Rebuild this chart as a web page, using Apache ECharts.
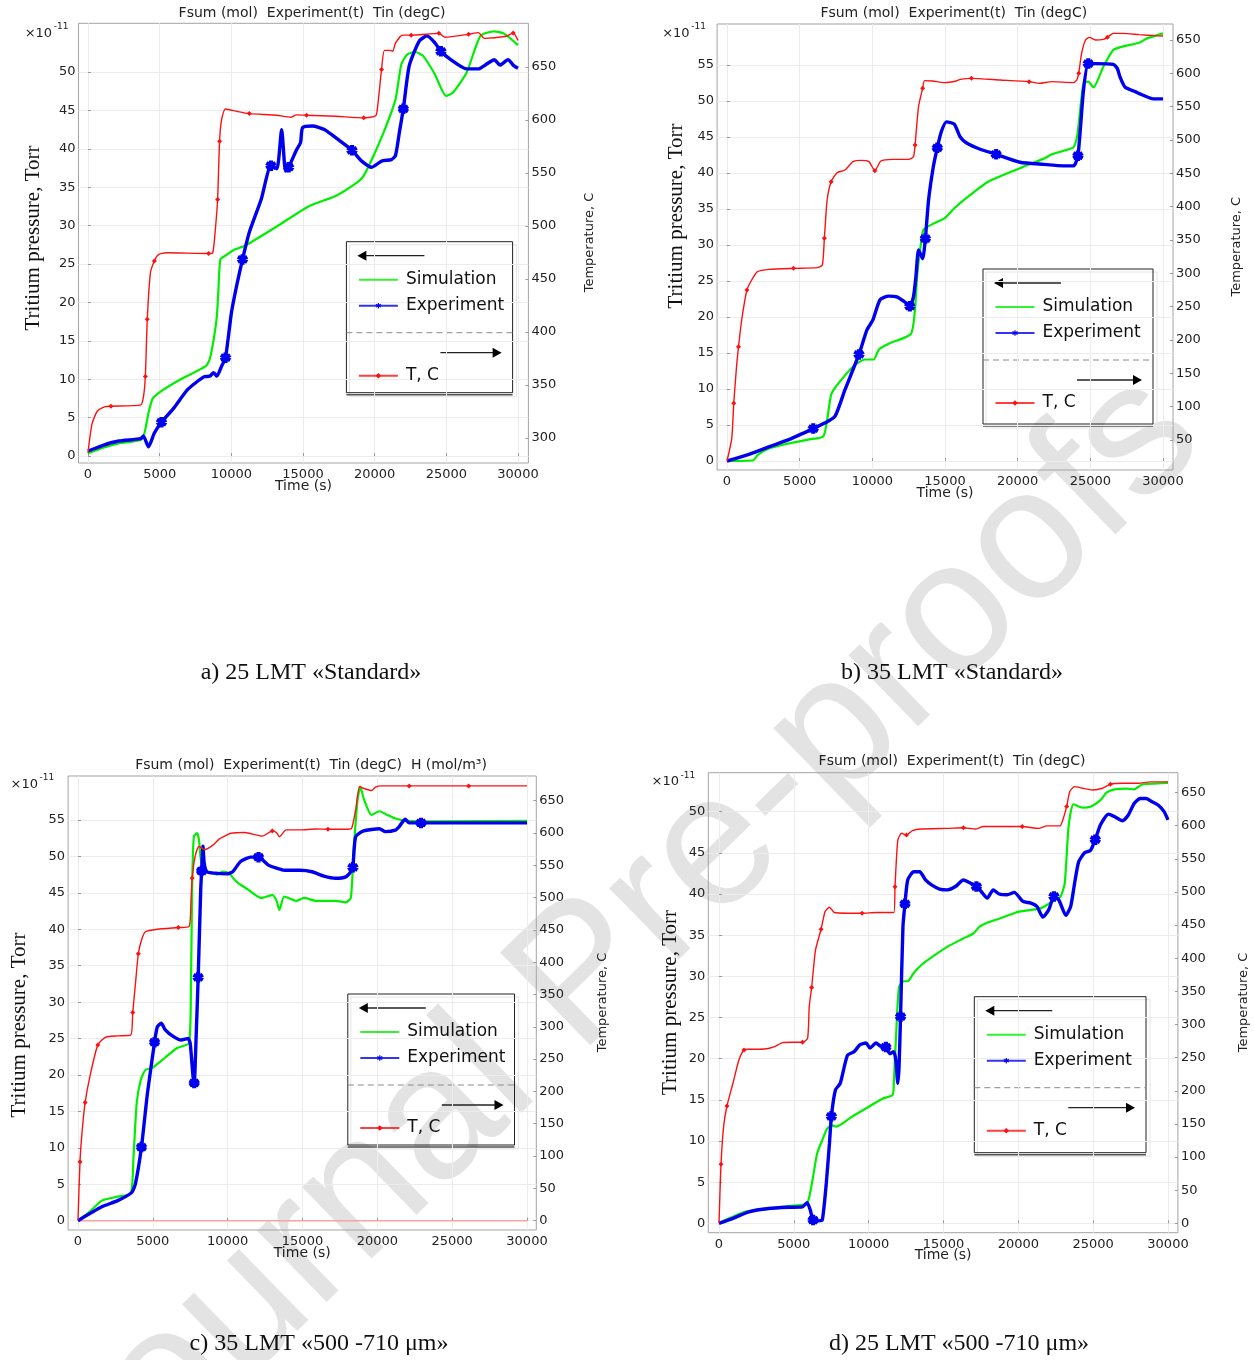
<!DOCTYPE html>
<html>
<head>
<meta charset="utf-8">
<script src="https://cdn.jsdelivr.net/npm/echarts@6/dist/echarts.min.js"></script>
<style>
  html, body { margin: 0; padding: 0; background: #ffffff; }
  #chart { width: 1254px; height: 1360px; }
</style>
</head>
<body>
<div id="chart"></div>
<script>
// ---- Tick values ----
const timeTicks = [0, 5000, 10000, 15000, 20000, 25000, 30000];
const pressTicks50 = [0, 5, 10, 15, 20, 25, 30, 35, 40, 45, 50];
const pressTicks55 = [0, 5, 10, 15, 20, 25, 30, 35, 40, 45, 50, 55];
const tempTicksA = [300, 350, 400, 450, 500, 550, 600, 650];
const tempTicksB = [50, 100, 150, 200, 250, 300, 350, 400, 450, 500, 550, 600, 650];
const tempTicks0 = [0, 50, 100, 150, 200, 250, 300, 350, 400, 450, 500, 550, 600, 650];

// ---- a) 25 LMT «Standard»: [time s, pressure ×1e-11 Torr] and [time s, temperature C] ----
const simA = [[0,0.35],[1050,1.08],[2150,1.65],[3670,2.08],[3940,3.0],[4220,5.6],[4490,7.4],[4910,8.2],[6290,9.8],[8215,11.7],[8490,12.6],[8770,15.2],[8990,18.2],[9100,21.7],[9235,25.6],[9594,26.1],[10145,26.8],[10970,27.4],[13180,29.9],[15380,32.5],[17310,33.9],[18830,35.7],[19240,36.5],[19800,38.6],[20620,42.1],[21450,46.4],[21860,51.0],[22280,52.3],[22830,52.6],[23380,52.1],[24200,49.7],[24980,46.9],[25450,47.3],[26410,49.9],[27380,54.7],[28340,55.3],[29030,55.0],[30000,53.5]];
const expA = [[0,0.65],[1050,1.4],[2150,1.95],[3670,2.26],[3860,2.6],[4220,1.2],[4630,3.0],[5130,4.4],[6010,6.3],[6975,8.7],[8080,10.3],[8490,10.4],[8770,10.85],[8990,10.4],[9320,11.7],[9594,12.8],[10010,18.7],[10420,22.6],[10780,25.6],[11250,29.1],[12080,33.4],[12765,37.8],[13180,37.4],[13510,42.5],[13785,37.1],[14000,37.6],[14560,39.9],[14830,40.8],[14970,42.75],[15660,42.97],[16490,42.5],[17590,41.0],[18420,39.8],[19100,38.4],[19800,37.6],[20480,38.4],[21170,38.6],[21450,39.1],[21720,42.1],[22000,45.2],[22410,50.8],[23100,54.0],[23650,54.7],[24200,53.8],[24620,52.7],[25310,51.6],[26410,50.4],[27240,50.4],[27790,51.0],[28340,51.6],[28750,50.9],[29300,51.6],[29720,50.8],[30000,50.5]];
const tempA = [[0,286],[276,313],[634,325],[1185,329.5],[1600,330],[3670,331],[3860,338],[4000,358],[4135,412],[4356,456],[4630,467],[4910,473],[5460,474.7],[8410,474],[8710,475],[8905,500],[9043,525],[9180,580],[9320,600],[9594,610.4],[10420,608],[11250,606],[13180,604.5],[14140,602.6],[14560,604.8],[15250,604.5],[17310,603.5],[19240,602],[20070,604],[20210,613],[20480,647.5],[20680,665.7],[21040,665.7],[21260,664.8],[21450,672.6],[21950,680],[22550,680],[24480,681.7],[24900,678],[26550,680.8],[27240,682.4],[27650,677],[29170,679],[29665,682],[30000,675]];
const expMarksA = [5130, 9594, 10780, 12765, 14000, 18420, 22000, 24620];
const tempMarksA = [1600, 4000, 4135, 4630, 8410, 9043, 9180, 11250, 15250, 19240, 20480, 22550, 24480, 26550, 29665];

// ---- b) 35 LMT «Standard» ----
const simB = [[0,0],[1830,0.1],[2100,0.83],[2930,1.76],[4290,2.45],[5660,3.0],[6620,3.4],[6890,5.7],[7166,9.2],[7576,10.55],[8670,13.1],[9490,14.1],[10090,14.1],[10450,15.5],[11130,16.3],[12640,17.6],[12910,20.5],[13100,26.1],[13320,29.8],[13510,32.1],[14140,32.9],[14960,33.7],[15640,35.1],[16330,36.3],[17970,38.8],[20700,41.1],[21800,42.0],[22350,42.6],[23170,43.1],[23850,43.6],[24120,45.5],[24530,52.5],[24860,52.7],[25220,51.9],[25900,54.8],[26580,57.1],[27270,57.6],[28360,58.1],[28910,58.7],[30000,59.4]];
const expB = [[0,0],[1560,0.97],[2930,2.0],[4290,3.0],[5935,4.5],[6755,5.3],[7440,6.25],[8120,9.9],[9080,14.8],[9630,18.2],[10040,19.6],[10530,22.4],[11130,22.9],[11680,22.8],[12230,22.1],[12580,21.5],[12830,22.8],[13000,25.6],[13180,29.3],[13460,28.1],[13650,30.9],[13870,36.25],[14200,40.9],[14470,43.5],[14740,45.7],[15100,47.1],[15640,46.8],[16050,45.0],[16460,44.2],[17420,43.3],[18520,42.6],[20160,41.5],[21800,41.2],[23170,41.0],[23850,41.0],[24150,42.4],[24530,51.5],[24860,55.2],[25350,55.2],[26580,55.1],[26860,54.5],[27050,53.3],[27400,51.9],[28090,51.3],[28640,50.8],[29320,50.3],[30000,50.3]];
const tempB = [[0,18.5],[328,52.5],[465,105],[656,160],[793,190],[1010,230],[1370,275],[1700,290],[2100,302.5],[2930,306],[4570,307.5],[6210,308.5],[6560,312.5],[6700,352.5],[6890,410],[7166,437.5],[7576,451],[8123,455],[8670,467.5],[9220,469.5],[9764,467.5],[10170,454],[10585,468.5],[11400,471],[12500,471],[12830,475],[12940,492.5],[13180,550],[13460,577.5],[13600,589],[14140,588.5],[14960,586],[15780,588.5],[16050,591],[16820,592.5],[18790,590],[20790,587.5],[21520,585],[22350,587.5],[23850,586],[24070,590],[24200,600],[24400,630],[24670,650],[24940,654],[25350,650],[25900,651],[26175,654],[26580,660],[27270,660],[28360,658],[29460,656.5],[30000,656]];
const expMarksB = [5935, 9080, 12580, 13650, 14470, 18520, 24150, 24860];
const tempMarksB = [465, 793, 1370, 4570, 6700, 7166, 10170, 12940, 13460, 16820, 20790, 24200, 26175];

// ---- c) 35 LMT «500 -710 μm» ----
const simC = [[0,0],[795,1.24],[1590,2.75],[2650,3.3],[3525,3.75],[3710,8.8],[3920,16.1],[4190,19.3],[4505,20.7],[4900,20.9],[5830,22.4],[6625,23.7],[7420,24.4],[7550,32.6],[7630,46.3],[7740,52.7],[7950,53.2],[8080,52.3],[8215,49.5],[8480,47.9],[8880,47.8],[9275,47.5],[9670,47.9],[10070,47.7],[10600,46.5],[11395,45.4],[12240,44.3],[12985,44.7],[13250,44.0],[13460,42.65],[13780,44.5],[14575,43.9],[15100,44.3],[15900,43.9],[17225,43.9],[17890,43.7],[18230,44.3],[18420,50.9],[18680,57.8],[18870,59.6],[19080,58.0],[19610,55.7],[20140,56.2],[20670,55.7],[21200,55.2],[22000,54.9],[23850,54.8],[30000,54.9]];
const expC = [[0,0],[1590,1.9],[2650,2.75],[3580,3.85],[3840,5.1],[4240,10.1],[4640,17.5],[5115,24.5],[5300,26.6],[5565,27.1],[5830,26.2],[6360,25.3],[6890,24.8],[7367,25.0],[7500,24.3],[7685,19.8],[7765,18.9],[7900,25.7],[8030,33.4],[8200,45.5],[8260,48.0],[8350,51.4],[8430,49.1],[8610,47.9],[9140,47.7],[9940,47.6],[10335,47.9],[10865,49.3],[11530,49.9],[12060,49.9],[12720,48.8],[13250,48.4],[13780,48.1],[14840,48.1],[15635,47.9],[16430,47.3],[17225,47.0],[17890,47.2],[18230,47.9],[18365,48.5],[18550,52.7],[19080,53.5],[20140,53.8],[20540,53.4],[21200,53.6],[21465,54.1],[21860,55.1],[22130,54.6],[22920,54.6],[30000,54.6]];
const tempC = [[0,1],[133,91],[265,135],[477,183],[795,223],[1325,272],[1855,284],[2650,286],[3525,287],[3657,322],[3840,367],[4030,413],[4240,434],[4505,447],[5300,451],[6700,453.5],[7420,455],[7550,496],[7630,530],[7820,563],[8080,579],[8480,574],[9010,581],[9410,590],[9800,595],[10200,599.5],[11130,600.5],[12320,595],[12985,603],[13250,600.5],[13460,594],[13910,604.6],[14840,604.6],[15900,606],[16700,605.7],[18020,605.7],[18285,607],[18550,635.6],[18815,671.7],[19080,669],[19610,665.5],[19875,670.7],[20270,672.7],[22130,672.7],[26100,672.7],[30000,672.7]];
const hC = [[0,0],[30000,0]];
const expMarksC = [4240, 5115, 7765, 8030, 8260, 12060, 18365, 22920];
const tempMarksC = [133, 477, 1325, 3657, 4030, 6700, 7630, 12985, 16700, 22130, 26100];

// ---- d) 25 LMT «500 -710 μm» ----
const simD = [[0,0.08],[929,0.8],[1725,1.4],[3050,1.7],[4650,2.1],[5840,2.35],[6030,3.2],[6290,5.7],[6560,8.5],[6900,10.1],[7220,11.5],[7570,11.9],[7830,11.74],[8890,12.96],[9960,14.1],[10890,15.1],[11600,15.6],[11680,17.0],[11870,24.3],[12030,28.7],[12345,29.4],[12610,29.4],[13010,30.4],[13540,31.4],[14200,32.3],[15270,33.6],[16330,34.6],[16990,35.2],[17390,36.0],[17920,36.5],[18720,37.0],[20050,37.85],[21370,38.2],[21770,38.5],[22430,39.3],[22830,39.7],[23100,41.3],[23360,48.2],[23680,50.9],[24290,50.5],[24820,50.6],[25490,51.4],[25890,52.3],[26420,52.7],[27210,52.8],[27740,52.7],[28270,53.3],[29070,53.4],[30000,53.5]];
const expD = [[0,0],[929,0.6],[1990,1.4],[3320,1.8],[4650,1.95],[5575,2.0],[5890,2.5],[6100,1.6],[6290,0.4],[6640,0.3],[6900,0.4],[7170,4.9],[7380,9.7],[7510,13.0],[7780,16.2],[8100,17.0],[8580,20.4],[9030,20.85],[9425,21.7],[9820,21.9],[10090,21.3],[10490,21.9],[10810,21.5],[11150,21.4],[11420,20.6],[11680,20.85],[11815,19.8],[11950,17.0],[12030,19.0],[12130,25.1],[12290,36.0],[12425,38.8],[12610,41.7],[13010,42.7],[13410,42.7],[13800,41.7],[14200,41.1],[14735,40.6],[15270,40.5],[15800,40.9],[16330,41.7],[16725,41.4],[17200,40.9],[17520,40.3],[17920,39.5],[18320,40.5],[18720,40.0],[19250,39.9],[19730,40.2],[20310,39.1],[20840,38.9],[21240,38.5],[21640,37.2],[22040,38.1],[22380,39.7],[22700,39.3],[23180,37.4],[23500,38.5],[23760,41.3],[24030,43.9],[24430,45.0],[24820,45.3],[25140,46.6],[25490,48.4],[26020,49.7],[26420,49.4],[26950,48.9],[27350,49.6],[27740,51.0],[28140,51.6],[28540,51.6],[28940,51.2],[29340,50.8],[29740,50.0],[30000,49.0]];
const tempD = [[0,0],[133,89],[318,148],[531,177],[929,211],[1330,246.5],[1670,261.6],[1990,262.6],[3050,263],[3715,266.6],[4250,272.7],[4910,273.2],[5575,273.2],[5920,279],[6030,327],[6190,356],[6450,412.5],[6820,443.7],[7090,470.4],[7380,477],[7700,469],[8630,468],[9560,468],[10490,469],[11680,469],[11760,508],[11950,578.6],[12210,588.6],[12530,586],[12930,592.6],[13540,595],[15270,596],[16330,597],[17120,595],[17660,598.7],[19250,598.7],[20260,598.7],[21370,596],[21900,599.7],[22780,599.7],[22970,608.7],[23230,628.9],[23440,651.5],[23760,659],[24290,656.5],[24960,654],[25620,656.5],[26150,662.6],[26950,664.1],[28010,664.1],[28800,666.1],[30000,666.1]];
const expMarksD = [6290, 7510, 11150, 12130, 12425, 17200, 22380, 25140];
const tempMarksD = [133, 531, 1670, 5575, 6190, 6820, 9560, 11760, 12530, 16330, 20260, 23230, 26150];

// ---- Text ----
const headerText = 'Fsum (mol)  Experiment(t)  Tin (degC)';
const headerTextH = 'Fsum (mol)  Experiment(t)  Tin (degC)  H (mol/m³)';
const captions = ['a) 25 LMT «Standard»', 'b) 35 LMT «Standard»', 'c) 35 LMT «500 -710 μm»', 'd) 25 LMT «500 -710 μm»'];

// ---- Panel layout (pixels) and axis ranges ----
const panels = [
  { grid: [78.5, 23.3, 449.9, 439.7], x: [-663, 30726], yL: [-0.91, 56.34], yR: [276.4, 691.2],
    pTicks: pressTicks50, tTicks: tempTicksA, sim: simA, exp: expA, temp: tempA, expMarks: expMarksA, tempMarks: tempMarksA,
    box: [346.4, 241.7, 166.2, 151], pName: [33, 238], tName: [589.8, 242.5], mult: [24.7, 33.3], header: [312, 13.3, headerText], caption: [311, 673] },
  { grid: [717.1, 24, 455.9, 446], x: [-681, 30689], yL: [-1.25, 60.7], yR: [5, 674],
    pTicks: pressTicks55, tTicks: tempTicksB, sim: simB, exp: expB, temp: tempB, expMarks: expMarksB, tempMarks: tempMarksB,
    box: [983, 269, 170, 155], pName: [676, 216], tName: [1236.5, 246.7], mult: [662.2, 33.3], header: [953.8, 13.3, headerText], caption: [952, 673] },
  { grid: [68.1, 776, 468.2, 454], x: [-661, 30621], yL: [-1.28, 61.04], yR: [-14.4, 688],
    pTicks: pressTicks55, tTicks: tempTicks0, sim: simC, exp: expC, temp: tempC, expMarks: expMarksC, tempMarks: tempMarksC, h: hC,
    box: [347.8, 994, 166.7, 151], pName: [19.3, 1025], tName: [602.6, 1002.5], mult: [10.5, 784.3], header: [311, 765, headerTextH], caption: [319, 1344] },
  { grid: [708.3, 772.7, 469.6, 460], x: [-715, 30662], yL: [-1.14, 54.73], yR: [-14.2, 680],
    pTicks: pressTicks50, tTicks: tempTicks0, sim: simD, exp: expD, temp: tempD, expMarks: expMarksD, tempMarks: tempMarksD,
    box: [974.3, 996.7, 171.7, 156], pName: [670, 1002.5], tName: [1243.4, 1002.5], mult: [651.5, 781.7], header: [952, 761.7, headerText], caption: [959, 1344] }
];

const SANS = 'DejaVu Sans';
const SERIF = 'Liberation Serif';
const GREEN = '#00ee00', BLUE = '#0000f0', RED = '#ff1010', PINK = '#f5a3a3';
const ASTERISK = 'path://M-1,-5L1,-5L1,5L-1,5Z M3.83,-3.37L4.83,-1.63L-3.83,3.37L-4.83,1.63Z M-4.83,-1.63L-3.83,-3.37L4.83,1.63L3.83,3.37Z';

// Only the listed sample times carry a marker; other points are plain line vertices.
function withMarkers(points, markTimes) {
  return points.map(p => markTimes.indexOf(p[0]) >= 0 ? { value: p } : { value: p, symbol: 'none' });
}

function legendFrame(b) {
  const [x, y, w, h] = b;
  const ay = y + 14, by = y + 111, sy = y + 91;
  return [
    { type: 'rect', silent: true, shape: { x: x + 3, y: y + 3, width: w + 1, height: h + 1 }, style: { fill: 'transparent', stroke: '#e4e4e4', lineWidth: 1 } },
    { type: 'rect', silent: true, shape: { x: x, y: y, width: w, height: h }, style: { fill: 'transparent', stroke: '#222', lineWidth: 1 } },
    { type: 'line', silent: true, shape: { x1: x, y1: y + h + 2, x2: x + w, y2: y + h + 2 }, style: { stroke: '#555', lineWidth: 1.5 } },
    { type: 'line', silent: true, shape: { x1: x, y1: sy, x2: x + w, y2: sy }, style: { stroke: '#8a8a8a', lineWidth: 1, lineDash: [6, 4] } },
    { type: 'line', silent: true, shape: { x1: x + 18, y1: ay, x2: x + 78, y2: ay }, style: { stroke: '#222', lineWidth: 1.3 } },
    { type: 'polygon', silent: true, shape: { points: [[x + 11, ay], [x + 20, ay - 5], [x + 20, ay + 5]] }, style: { fill: '#000' } },
    { type: 'line', silent: true, shape: { x1: x + 94, y1: by, x2: x + w - 18, y2: by }, style: { stroke: '#222', lineWidth: 1.3 } },
    { type: 'polygon', silent: true, shape: { points: [[x + w - 11, by], [x + w - 20, by - 5], [x + w - 20, by + 5]] }, style: { fill: '#000' } }
  ];
}

const plainNumber = v => String(v);

const option = {
  animation: false,
  backgroundColor: '#ffffff',
  textStyle: { fontFamily: SANS },
  title: [],
  grid: [],
  xAxis: [],
  yAxis: [],
  legend: [],
  series: [],
  graphic: { elements: [] }
};

// Watermark, kept underneath the plots
option.graphic.elements.push({
  type: 'text', silent: true, z: -10, x: 618, y: 946, rotation: 0.772,
  style: { text: 'Journal Pre-proofs', font: 'normal 188px "Liberation Sans"', fill: '#e3e3e3', align: 'center', verticalAlign: 'middle' }
});

panels.forEach((p, i) => {
  option.grid.push({
    left: p.grid[0], top: p.grid[1], width: p.grid[2], height: p.grid[3],
    show: true, borderColor: '#a3a3a3', borderWidth: 1, backgroundColor: 'transparent',
    containLabel: false, outerBoundsMode: 'none'
  });

  option.xAxis.push({
    type: 'value', gridIndex: i, min: p.x[0], max: p.x[1],
    name: 'Time (s)', nameLocation: 'middle', nameGap: 16, nameMoveOverlap: false,
    nameTextStyle: { fontFamily: SANS, fontSize: 14, color: '#222' },
    axisLine: { show: false },
    axisTick: { show: true, inside: true, length: 3, lineStyle: { color: '#999' }, customValues: timeTicks },
    axisLabel: { customValues: timeTicks, formatter: plainNumber, fontFamily: SANS, fontSize: 13, color: '#222', margin: 5, hideOverlap: false },
    splitLine: { show: true, lineStyle: { color: '#ececec', width: 1 } }
  });

  option.yAxis.push({
    type: 'value', gridIndex: i, position: 'left', min: p.yL[0], max: p.yL[1],
    axisLine: { show: false },
    axisTick: { show: true, inside: true, length: 3, lineStyle: { color: '#999' }, customValues: p.pTicks },
    axisLabel: { customValues: p.pTicks, formatter: plainNumber, fontFamily: SANS, fontSize: 13, color: '#222', margin: 3, hideOverlap: false },
    splitLine: { show: true, lineStyle: { color: '#ececec', width: 1 } }
  });
  option.yAxis.push({
    type: 'value', gridIndex: i, position: 'right', min: p.yR[0], max: p.yR[1],
    axisLine: { show: false },
    axisTick: { show: true, inside: true, length: 3, lineStyle: { color: '#999' }, customValues: p.tTicks },
    axisLabel: { customValues: p.tTicks, formatter: plainNumber, fontFamily: SANS, fontSize: 13, color: '#222', margin: 3, hideOverlap: false },
    splitLine: { show: false }
  });

  const yl = 2 * i, yr = 2 * i + 1;
  option.series.push({
    type: 'line', name: 'Simulation', xAxisIndex: i, yAxisIndex: yl, data: p.sim,
    symbol: 'none', smooth: 0.2, silent: true, z: 2,
    lineStyle: { color: GREEN, width: 2.2 }, itemStyle: { color: GREEN }
  });
  option.series.push({
    type: 'line', name: 'Experiment', xAxisIndex: i, yAxisIndex: yl, data: withMarkers(p.exp, p.expMarks),
    symbol: ASTERISK, symbolSize: 8, showSymbol: true, showAllSymbol: true, smooth: 0.2, silent: true, z: 3,
    lineStyle: { color: BLUE, width: 3.4 }, itemStyle: { color: BLUE, borderColor: BLUE, borderWidth: 2.5 }
  });
  option.series.push({
    type: 'line', name: 'T, C', xAxisIndex: i, yAxisIndex: yr, data: withMarkers(p.temp, p.tempMarks),
    symbol: 'diamond', symbolSize: 5, showSymbol: true, showAllSymbol: true, smooth: 0.2, silent: true, z: 4,
    lineStyle: { color: RED, width: 1.4 }, itemStyle: { color: RED }
  });
  if (p.h) {
    option.series.push({
      type: 'line', name: 'H (mol/m³)', xAxisIndex: i, yAxisIndex: yr, data: p.h,
      symbol: 'none', silent: true, z: 1, lineStyle: { color: PINK, width: 1.5 }
    });
  }

  // Legend: left-axis group and right-axis group
  const [bx, by] = p.box;
  const legendCommon = {
    orient: 'vertical', left: bx + 11.5, padding: 0, itemWidth: 39, itemHeight: 7, itemGap: 6,
    selectedMode: false,
    textStyle: { fontFamily: SANS, fontSize: 17, color: '#111', lineHeight: 20, padding: [0, 0, 0, 3] },
    lineStyle: { width: 2, opacity: 0.8 }, itemStyle: { borderWidth: 0 }
  };
  option.legend.push(Object.assign({}, legendCommon, {
    top: by + 38 - 10,
    data: [{ name: 'Simulation', itemStyle: { opacity: 0 } }, { name: 'Experiment' }]
  }));
  option.legend.push(Object.assign({}, legendCommon, { top: by + 134 - 10, data: ['T, C'] }));

  option.graphic.elements.push(...legendFrame(p.box));

  // Header above each plot and caption below it
  option.title.push({
    text: p.header[2], left: p.header[0], top: p.header[1] - 8, textAlign: 'center', padding: 0,
    textStyle: { fontFamily: SANS, fontSize: 14, fontWeight: 'normal', color: '#222', lineHeight: 16 }
  });
  option.title.push({
    text: captions[i], left: p.caption[0], top: p.caption[1] - 14, textAlign: 'center', padding: 0,
    textStyle: { fontFamily: SERIF, fontSize: 24, fontWeight: 'normal', color: '#111', lineHeight: 28 }
  });

  // Axis names and the ×10^-11 multiplier
  option.graphic.elements.push(
    { type: 'text', silent: true, x: p.pName[0], y: p.pName[1], rotation: Math.PI / 2,
      style: { text: 'Tritium pressure, Torr', font: 'normal 21px "' + SERIF + '"', fill: '#111', align: 'center', verticalAlign: 'middle' } },
    { type: 'text', silent: true, x: p.tName[0], y: p.tName[1], rotation: Math.PI / 2,
      style: { text: 'Temperature, C', font: 'normal 13px "' + SANS + '"', fill: '#222', align: 'center', verticalAlign: 'middle' } },
    { type: 'text', silent: true, x: p.mult[0], y: p.mult[1],
      style: { text: '×10', font: 'normal 13px "' + SANS + '"', fill: '#222', align: 'left', verticalAlign: 'middle' } },
    { type: 'text', silent: true, x: p.mult[0] + 29, y: p.mult[1] - 6.5,
      style: { text: '-11', font: 'normal 9px "' + SANS + '"', fill: '#222', align: 'left', verticalAlign: 'middle' } }
  );
});

const chart = echarts.init(document.getElementById('chart'), null, { renderer: 'canvas' });
chart.setOption(option);
</script>
</body>
</html>
